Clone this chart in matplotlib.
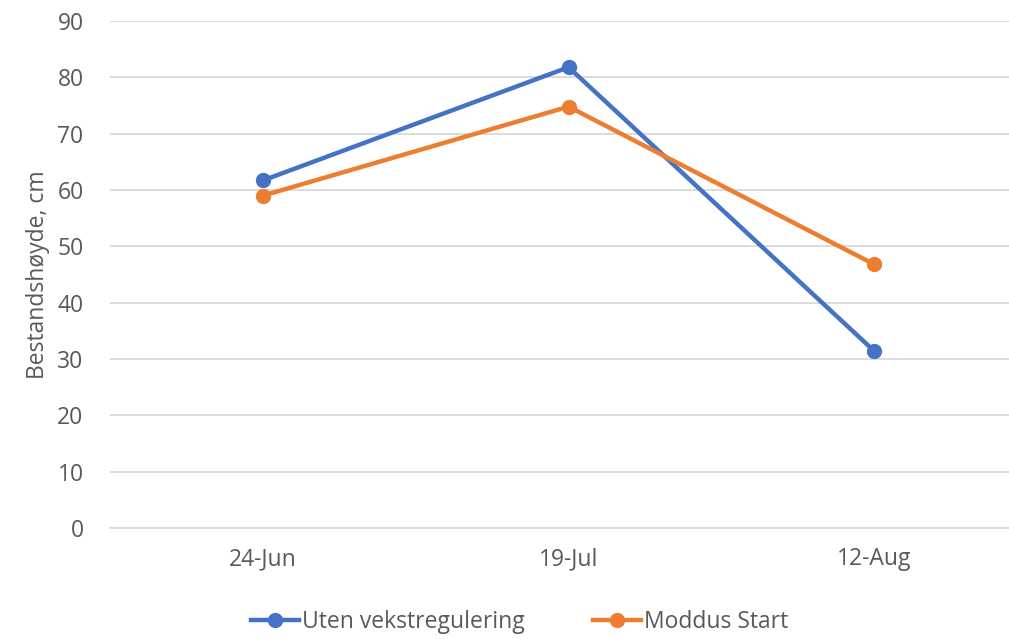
import matplotlib.pyplot as plt
import matplotlib as mpl

mpl.rcParams["font.family"] = ["Open Sans", "DejaVu Sans"]

dates = ["24-Jun", "19-Jul", "12-Aug"]
uten = [61.7, 81.8, 31.4]
moddus = [59.0, 74.8, 46.8]

text_color = "#595959"
grid_color = "#d9d9d9"
fontsize = 16.5

fig = plt.figure(figsize=(10.09, 6.39), dpi=100)
ax = fig.add_axes([0.109, 0.1737, 0.909, 0.7934])

x = range(len(dates))
ax.plot(x, uten, color="#4472C4", linewidth=3.2, marker="o", markersize=10,
        label="Uten vekstregulering", zorder=3)
ax.plot(x, moddus, color="#ED7D31", linewidth=3.2, marker="o", markersize=10,
        label="Moddus Start", zorder=3)

ax.set_xlim(-0.5, len(dates) - 0.5)
ax.set_ylim(0, 90)
ax.set_yticks(range(0, 91, 10))
ax.set_xticks(list(x), dates)
ax.grid(axis="y", color=grid_color, linewidth=1.3)
ax.set_axisbelow(True)
for s in ["top", "right", "left"]:
    ax.spines[s].set_visible(False)
ax.spines["bottom"].set_color(grid_color)
ax.spines["bottom"].set_linewidth(1.3)
ax.tick_params(axis="both", length=0, labelsize=fontsize, colors=text_color)
ax.tick_params(axis="x", pad=14)
ax.tick_params(axis="y", pad=19)
ax.set_ylabel("Bestandshøyde, cm", fontsize=fontsize, color=text_color, labelpad=5)

fig.legend(loc="center", bbox_to_anchor=(0.515, 0.026), ncols=2, frameon=False,
           fontsize=fontsize, labelcolor=text_color, handlelength=2.1,
           handletextpad=0.1, columnspacing=3.0)

fig.savefig("out.png", dpi=100)
